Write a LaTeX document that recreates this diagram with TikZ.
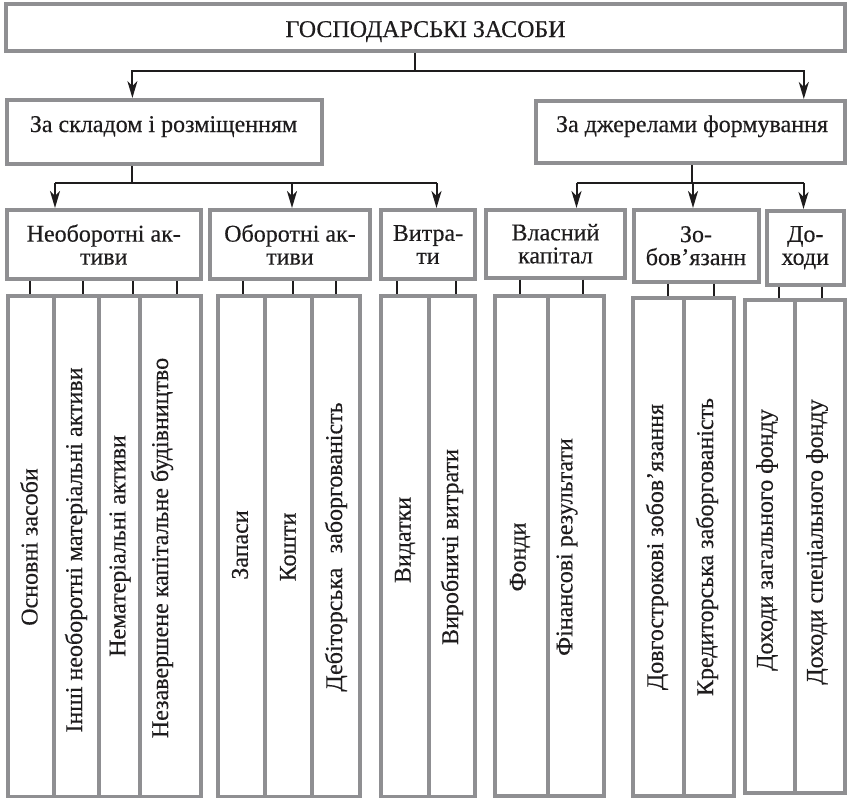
\documentclass[tikz,border=0pt]{standalone}
\usepackage{fontspec}
\setmainfont{Liberation Serif}
\newfontfamily\labelfont{Liberation Serif}[FakeBold=0.35]
\usetikzlibrary{arrows.meta}
\definecolor{frame}{RGB}{143,143,146}
\definecolor{ink}{RGB}{30,28,29}

% a framed rectangle given by its edges: name, x1, x2, y1, y2
\newcommand\greybox[5]{%
  \node[box, minimum width={(#3)-(#2)}, minimum height={(#5)-(#4)}]
    (#1) at ({((#2)+(#3))/2},{((#4)+(#5))/2}) {};}

\begin{document}
\begin{tikzpicture}[x=1pt,y=-1pt,
  box/.style={draw=frame, line width=4pt, fill=white, inner sep=0pt},
  link/.style={draw=ink, line width=2pt},
  arr/.style={link, -{Stealth[length=17pt,width=10pt,inset=5pt]}},
  tick/.style={draw=ink, line width=2.2pt},
  txt/.style={font=\labelfont\fontsize{24}{23}\selectfont, text=ink, align=center, inner sep=0pt},
  col/.style={txt, rotate=90},
]
\useasboundingbox (0,0) rectangle (849,798);

% ---------- top level ----------
\greybox{top}{6}{845}{3.5}{51}
\node[txt, anchor=base] (topt) at (425.6,37) {ГОСПОДАРСЬКІ ЗАСОБИ};

% ---------- second level ----------
\greybox{ka}{7}{322}{100}{164}
\node[txt, anchor=base] (kat) at (163.5,132) {За складом і розміщенням};
\greybox{kb}{535.5}{845}{101}{163}
\node[txt, anchor=base] (kbt) at (692,132) {За джерелами формування};

\coordinate (j0) at (415,70.5);
\coordinate (j0a) at (132.4,70.5);
\coordinate (j0b) at (803.8,70.5);
\draw[link] (top.south -| j0) -- (j0);
\draw[arr] (j0) -- (j0a) -- (j0a |- ka.north);
\draw[arr] (j0) -- (j0b) -- (j0b |- kb.north);

% ---------- third level ----------
\greybox{n1}{6.5}{201}{210}{279}
\greybox{n2}{210}{370}{210}{279}
\greybox{n3}{381}{475}{210}{279}
\greybox{n4}{486}{625}{210}{277.5}
\greybox{n5}{633.5}{758.5}{210}{281.5}
\greybox{n6}{766.5}{844}{211}{284.5}
\node[txt] (n1t) at (n1) {Необоротні ак-\\тиви};
\node[txt] (n2t) at (n2) {Оборотні ак-\\тиви};
\node[txt] (n3t) at (n3) {Витра-\\ти};
\node[txt] (n4t) at (n4) {Власний\\капітал};
\node[txt] (n5t) at (n5) {Зо-\\бов’язанн};
\node[txt] (n6t) at (n6) {До-\\ходи};

\coordinate (ja) at (132.4,183.3);
\coordinate (ja1) at (55,183.3);
\coordinate (ja2) at (292,183.3);
\coordinate (ja3) at (436.5,183.3);
\draw[link] (ka.south -| ja) -- (ja);
\draw[link] (ja1) -- (ja3);
\draw[arr] (ja1) -- (ja1 |- n1.north);
\draw[arr] (ja2) -- (ja2 |- n2.north);
\draw[arr] (ja3) -- (ja3 |- n3.north);

\coordinate (jb) at (692,183.3);
\coordinate (jb1) at (576.5,183.3);
\coordinate (jb2) at (693,183.3);
\coordinate (jb3) at (803.5,183.3);
\draw[link] (kb.south -| jb) -- (jb);
\draw[link] (jb1) -- (jb3);
\draw[arr] (jb1) -- (jb1 |- n4.north);
\draw[arr] (jb2) -- (jb2 |- n5.north);
\draw[arr] (jb3) -- (jb3 |- n6.north);

% ---------- columns ----------
\greybox{c11}{7.5}{53.5}{296}{796.5}
\greybox{c12}{53.5}{99}{296}{796.5}
\greybox{c13}{99}{140}{296}{796.5}
\greybox{c14}{140}{200.5}{296}{796.5}
\greybox{c21}{217.5}{265}{296}{796.5}
\greybox{c22}{265}{311.5}{296}{796.5}
\greybox{c23}{311.5}{360}{296}{796.5}
\greybox{c31}{381}{428.5}{296}{796.5}
\greybox{c32}{428.5}{475}{296}{796.5}
\greybox{c41}{495}{547.5}{296}{796}
\greybox{c42}{547.5}{603.5}{296}{796}
\greybox{c51}{632.5}{683.5}{298}{796}
\greybox{c52}{683.5}{733.5}{298}{796}
\greybox{c61}{745}{795}{300}{792.5}
\greybox{c62}{795}{845}{300}{792.5}

\node[col] (t11) at (29,547) {Основні засоби};
\node[col] (t12) at (76,550) {Інші необоротні матеріальні активи};
\node[col] (t13) at (120,546) {Нематеріальні активи};
\node[col] (t14) at (162,548) {Незавершене капітальне будівництво};
\node[col] (t21) at (240,545) {Запаси};
\node[col] (t22) at (288,547) {Кошти};
\node[col] (t23) at (336,547) {Дебіторська\hspace{0.6em}заборгованість};
\node[col] (t31) at (405,540) {Видатки};
\node[col] (t32) at (452,547) {Виробничі витрати};
\node[col] (t41) at (520,557) {Фонди};
\node[col] (t42) at (567,547) {Фінансові результати};
\node[col] (t51) at (657,547) {Довгострокові зобов’язання};
\node[col] (t52) at (707,547) {Кредиторська заборгованість};
\node[col] (t61) at (767,540) {Доходи загального фонду};
\node[col] (t62) at (817,542) {Доходи спеціального фонду};

% ---------- ticks from headers to columns ----------
\foreach \x in {30,83.3,132.7,176.7} \draw[tick] (n1.south -| \x,0) -- (c11.north -| \x,0);
\foreach \x in {242.7,292.7,336} \draw[tick] (n2.south -| \x,0) -- (c21.north -| \x,0);
\foreach \x in {397.3,455.7} \draw[tick] (n3.south -| \x,0) -- (c31.north -| \x,0);
\foreach \x in {520,582.7} \draw[tick] (n4.south -| \x,0) -- (c41.north -| \x,0);
\foreach \x in {668.3,714.3} \draw[tick] (n5.south -| \x,0) -- (c51.north -| \x,0);
\foreach \x in {779.3,822.3} \draw[tick] (n6.south -| \x,0) -- (c61.north -| \x,0);
\end{tikzpicture}
\end{document}
